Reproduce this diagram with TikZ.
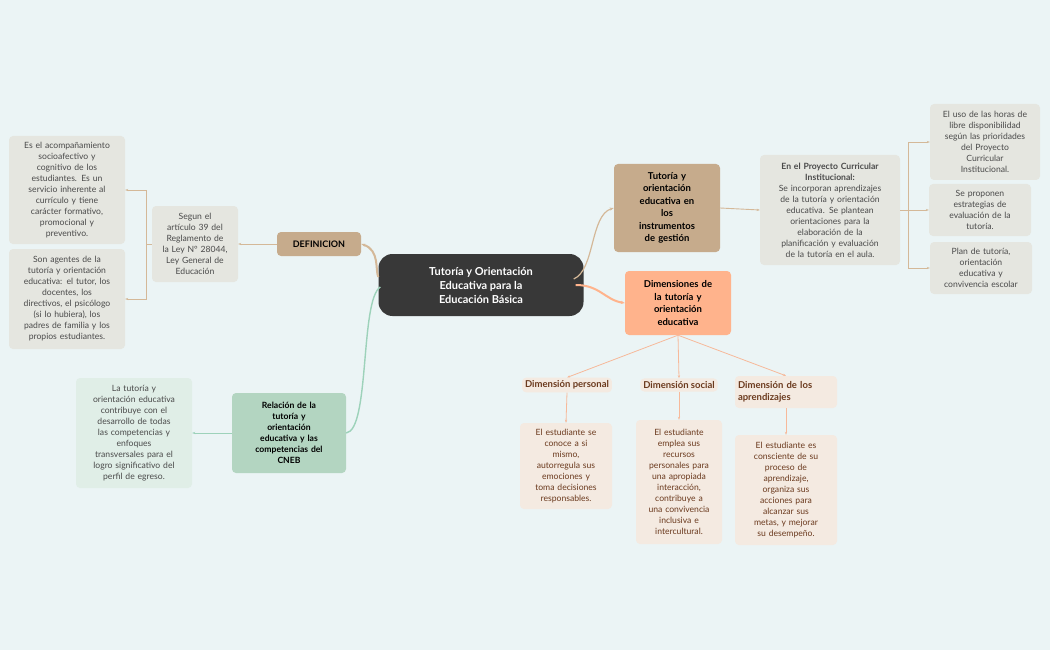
\documentclass[tikz,border=0pt]{standalone}
\usepackage{fontspec}
\setmainfont{Lato}
\usetikzlibrary{arrows.meta}
\definecolor{bg}{HTML}{EBF4F5}
\definecolor{tan}{HTML}{C6AB8C}
\definecolor{tanl}{HTML}{D4B898}
\definecolor{grayb}{HTML}{E5E6E0}
\definecolor{orng}{HTML}{FFB38C}
\definecolor{orl}{HTML}{F7B99A}
\definecolor{dimb}{HTML}{F4EAE1}
\definecolor{grn}{HTML}{B3D5C1}
\definecolor{grnl}{HTML}{E0EEE7}
\definecolor{grnline}{HTML}{9DD2BA}
\definecolor{txt}{HTML}{4A4A4A}
\definecolor{brn}{HTML}{6B3A1E}
\begin{document}
\begin{tikzpicture}[x=1pt,y=-1pt,
 box/.style={rounded corners=4pt,align=center,inner sep=3pt,text=txt,font=\fontsize{8.6}{11}\selectfont},
 gbox/.style={box,fill=grayb},
 dbox/.style={box,fill=dimb,text=brn},
 dhead/.style={box,fill=dimb,text=brn,font=\fontsize{9.5}{12}\selectfont\bfseries},
 con/.style={draw=tanl,line width=1.2pt},
 arr/.style={draw=tanl,line width=0.9pt,-{Stealth[length=3pt]}},
 oarr/.style={draw=orl,line width=0.8pt,-{Stealth[length=3pt]}}]
\fill[bg] (0,0) rectangle (1050,650);
\node[box,fill=black!78,text=white,minimum width=205,minimum height=62,rounded corners=14pt,font=\fontsize{11}{14}\selectfont\bfseries] (c) at (481,285) {Tutoría y Orientación\\Educativa para la\\Educación Básica};
\node[box,fill=tan,text=black,text width=100,minimum height=88,font=\fontsize{9.5}{12.5}\selectfont\bfseries] (t) at (667,208) {Tutoría y\\orientación\\educativa en\\los\\instrumentos\\de gestión};
\node[box,fill=orng,text=black,text width=100,minimum height=64,font=\fontsize{9.5}{12.5}\selectfont\bfseries] (d) at (678,303) {Dimensiones de\\la tutoría y\\orientación\\educativa};
\node[gbox,text width=134,minimum height=110] (p) at (830,210) {\textbf{En el Proyecto Curricular}\\\textbf{Institucional:}\\Se incorporan aprendizajes\\de la tutoría y orientación\\educativa. Se plantean\\orientaciones para la\\elaboración de la\\planificación y evaluación\\de la tutoría en el aula.};
\node[gbox,text width=104,minimum height=76] (r1) at (985,142) {El uso de las horas de\\libre disponibilidad\\según las prioridades\\del Proyecto\\Curricular\\Institucional.};
\node[gbox,text width=96,minimum height=52] (r2) at (980,210) {Se proponen\\estrategias de\\evaluación de la\\tutoría.};
\node[gbox,text width=96,minimum height=52] (r3) at (981,268) {Plan de tutoría,\\orientación\\educativa y\\convivencia escolar};
\node[box,fill=tan,text=black,minimum width=84,minimum height=24,font=\fontsize{9}{11}\selectfont\bfseries] (def) at (319,244) {DEFINICION};
\node[gbox,text width=80,minimum height=76] (s) at (195,244) {Segun el\\artículo 39 del\\Reglamento de\\la Ley N° 28044,\\Ley General de\\Educación};
\node[gbox,text width=110,minimum height=108] (l1) at (67,190) {Es el acompañamiento\\socioafectivo y\\cognitivo de los\\estudiantes. Es un\\servicio inherente al\\currículo y tiene\\carácter formativo,\\promocional y\\preventivo.};
\node[gbox,text width=110,minimum height=100] (l2) at (67,299) {Son agentes de la\\tutoría y orientación\\educativa: el tutor, los\\docentes, los\\directivos, el psicólogo\\(si lo hubiera), los\\padres de familia y los\\propios estudiantes.};
\node[box,fill=grn,text=black,text width=108,minimum height=80,font=\fontsize{8.6}{11}\selectfont\bfseries] (rel) at (289,433) {Relación de la\\tutoría y\\orientación\\educativa y las\\competencias del\\CNEB};
\node[box,fill=grnl,text width=110,minimum height=110] (lt) at (134,433) {La tutoría y\\orientación educativa\\contribuye con el\\desarrollo de todas\\las competencias y\\enfoques\\transversales para el\\logro significativo del\\perfil de egreso.};
\node[dhead] (d1) at (567,385) {Dimensión personal};
\node[dhead] (d2) at (679,385) {Dimensión social};
\node[dhead,align=left,text width=96,minimum height=32] (d3) at (786,392) {Dimensión de los\\aprendizajes};
\node[dbox,text width=86,minimum height=86] (e1) at (566,466) {El estudiante se\\conoce a si\\mismo,\\autorregula sus\\emociones y\\toma decisiones\\responsables.};
\node[dbox,text width=80,minimum height=124] (e2) at (679,482) {El estudiante\\emplea sus\\recursos\\personales para\\una apropiada\\interacción,\\contribuye a\\una convivencia\\inclusiva e\\intercultural.};
\node[dbox,text width=96,minimum height=110] (e3) at (786,490) {El estudiante es\\consciente de su\\proceso de\\aprendizaje,\\organiza sus\\acciones para\\alcanzar sus\\metas, y mejorar\\su desempeño.};
% main connectors
\draw[con,-{Stealth[length=4pt]}] (c.east) ++(-10,-6) .. controls (595,270) and (590,215) .. (t.west);
\draw[draw=orng,line width=2pt,-{Stealth[length=4pt]}] (c.east) ++(-8,0) .. controls (600,285) and (605,300) .. (d.west);
\draw[con,line width=2pt,-{Stealth[length=4pt]}] (c.west) ++(0,-8) .. controls (375,270) and (380,250) .. (def.east);
\draw[draw=grnline,line width=1.4pt] (c.west) ++(2,2) .. controls (360,300) and (370,430) .. (rel.east);
% children
\draw[arr] (t.east) -- (p.west);
\coordinate (pb) at (908,210);
\draw[con,line width=0.9pt] (p.east) -- (pb);
\draw[arr] (pb) -- (r2.west);
\draw[arr] (pb) |- ([yshift=0]r1.west|-0,142) ;
\draw[arr] (pb) |- (r3.west);
\draw[arr] (def.west) -- (s.east);
\coordinate (sb) at (146,244);
\draw[con,line width=0.9pt] (s.west) -- (sb);
\draw[arr] (sb) |- (l1.east|-0,190);
\draw[arr] (sb) |- (l2.east|-0,299);
\draw[draw=grnline,line width=0.9pt,-{Stealth[length=3pt]}] (rel.west) -- (lt.east);
\draw[oarr] (d.south) -- (d1.north);
\draw[oarr] (d.south) -- (d2.north);
\draw[oarr] (d.south) -- (d3.north);
\draw[oarr] (d1.south) -- (e1.north);
\draw[oarr] (d2.south) -- (e2.north);
\draw[oarr] (d3.south) -- (e3.north);
\end{tikzpicture}
\end{document}
